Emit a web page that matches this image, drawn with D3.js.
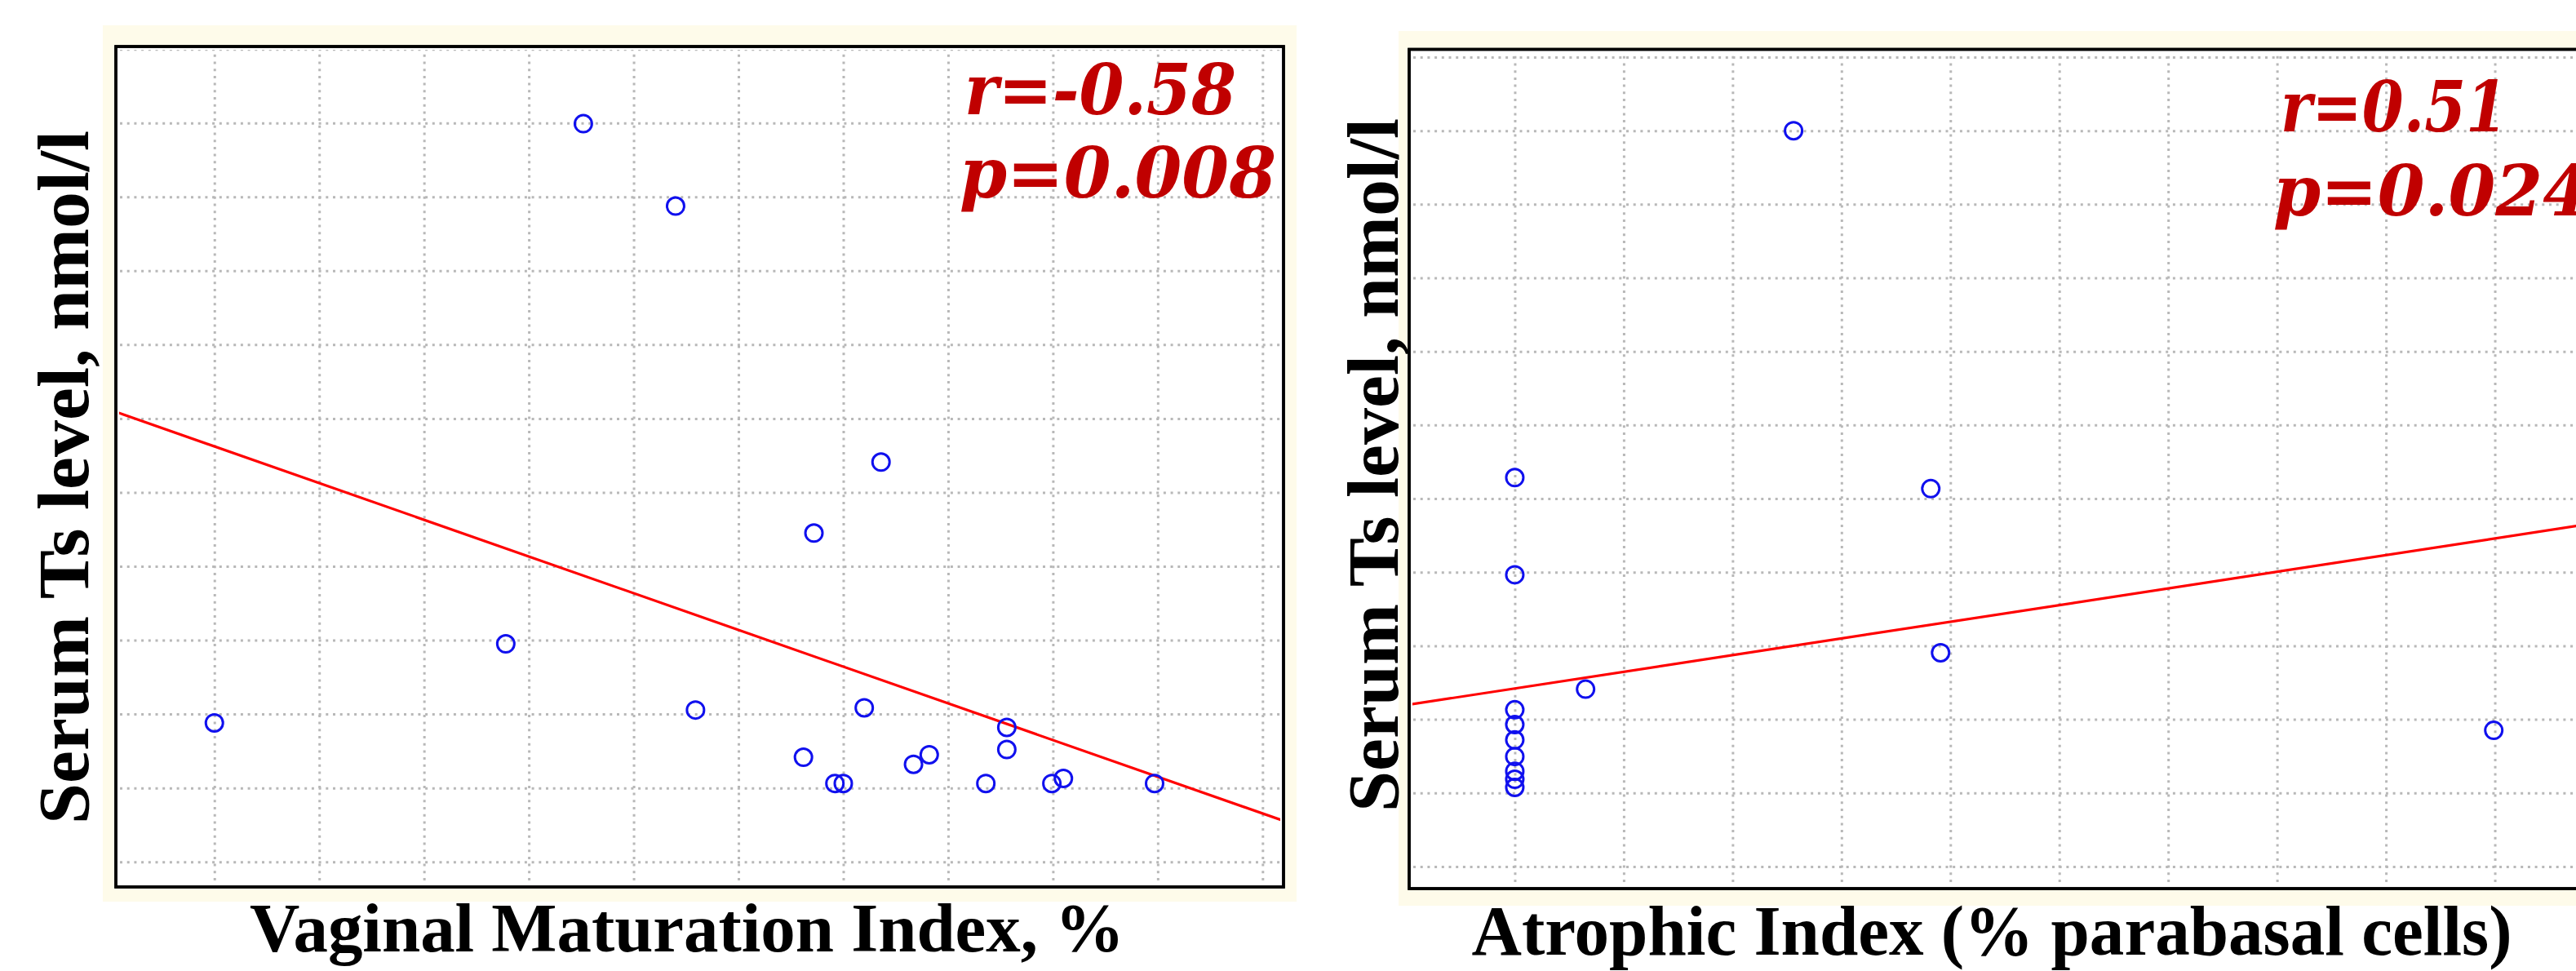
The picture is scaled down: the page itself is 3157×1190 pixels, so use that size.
<!doctype html>
<html>
  <head>
    <script src="https://cdnjs.cloudflare.com/ajax/libs/d3/7.8.5/d3.min.js"></script>
    <style>
      body { margin: 0; background: #fff; }
      .grid line { stroke: #b8b8b8; stroke-width: 3; stroke-dasharray: 3 5.7; }
      .grid path { display: none; }
      circle.pt { fill: none; stroke: #1010ee; stroke-width: 3; }
      path.fit { fill: none; stroke: #ff0000; stroke-width: 3.2; }
      rect.frame { fill: #fff; stroke: #000; stroke-width: 3.5; }
      rect.cream { fill: #fefbea; }
      text.stat { font-family: "DejaVu Serif", serif; font-weight: bold; font-style: italic; fill: #c00000; }
      text.lab { font-family: "Liberation Serif", "Times New Roman", serif; font-weight: bold; fill: #000; }
    </style>
  </head>
  <body>
    <div id="chart"></div>
    <script>
      // left panel: Vaginal Maturation Index vs serum Ts
      var vmiX = [20.0, 33.9, 42.95, 48.1, 48.6, 49.6, 50.0, 51.0, 51.8, 53.35, 54.1, 56.8, 57.8, 57.8, 59.95, 60.5, 64.85, 37.6, 42.0];
      var vmiY = [0.376, 0.590, 0.411, 0.283, 0.890, 0.212, 0.212, 0.417, 1.082, 0.264, 0.290, 0.212, 0.364, 0.304, 0.212, 0.226, 0.212, 1.998, 1.775];
      var vmiFitX = [15.3, 71.0];
      var vmiFitY = [1.218, 0.111];
      var vmiTicks = [20, 25, 30, 35, 40, 45, 50, 55, 60, 65, 70];

      // right panel: Atrophic Index vs serum Ts
      var aiX = [0, 38.2, 0, 39.1, 6.5, 89.9, 25.6, 0, 0, 0, 0, 0, 0, 0];
      var aiY = [1.057, 1.027, 0.793, 0.581, 0.482, 0.370, 2.0, 0.426, 0.386, 0.344, 0.299, 0.259, 0.237, 0.215];
      var aiFitX = [-9.7, 100];
      var aiFitY = [0.440, 0.937];
      var aiTicks = [0, 10, 20, 30, 40, 50, 60, 70, 80, 90, 100];

      var tsTicks = [0, 0.2, 0.4, 0.6, 0.8, 1.0, 1.2, 1.4, 1.6, 1.8, 2.0, 2.2];

      var svg = d3.select("#chart").append("svg")
          .attr("width", 3157)
          .attr("height", 1190);

      svg.append("rect").attr("width", 3157).attr("height", 1190).attr("fill", "#fff");

      function panel(p) {
        var x = d3.scaleLinear().domain(p.xDomain).range([p.left, p.right]);
        var y = d3.scaleLinear().domain(p.yDomain).range([p.bottom, p.top]);
        var g = svg.append("g");

        g.append("rect").attr("class", "cream")
            .attr("x", p.cream[0]).attr("y", p.cream[1])
            .attr("width", p.cream[2] - p.cream[0]).attr("height", p.cream[3] - p.cream[1]);

        g.append("rect").attr("class", "frame")
            .attr("x", p.left).attr("y", p.top)
            .attr("width", p.right - p.left).attr("height", p.bottom - p.top);

        var clipId = "clip" + p.id;
        g.append("clipPath").attr("id", clipId)
          .append("rect")
            .attr("x", p.left + 4).attr("y", p.top + 4)
            .attr("width", p.right - p.left - 8).attr("height", p.bottom - p.top - 8);

        var inner = g.append("g").attr("clip-path", "url(#" + clipId + ")");

        inner.append("g").attr("class", "grid")
            .attr("transform", "translate(0," + (p.bottom - 8) + ")")
            .call(d3.axisBottom(x).tickValues(p.xTicks).tickSize(-(p.bottom - p.top - 14)).tickFormat(""));

        inner.append("g").attr("class", "grid")
            .attr("transform", "translate(" + (p.left + 5) + ",0)")
            .call(d3.axisLeft(y).tickValues(tsTicks).tickSize(-(p.right - p.left)).tickFormat(""));

        inner.append("path").attr("class", "fit")
            .datum(d3.zip(p.fitX, p.fitY))
            .attr("d", d3.line().x(d => x(d[0])).y(d => y(d[1])));

        inner.selectAll("circle.pt")
          .data(d3.zip(p.xs, p.ys))
          .enter()
          .append("circle")
            .attr("class", "pt")
            .attr("cx", d => x(d[0]))
            .attr("cy", d => y(d[1]))
            .attr("r", 10.5);

        // redraw frame edges on top
        g.append("rect")
            .attr("x", p.left).attr("y", p.top)
            .attr("width", p.right - p.left).attr("height", p.bottom - p.top)
            .attr("fill", "none").attr("stroke", "#000").attr("stroke-width", 3.5);

        p.stats.forEach(function(s) {
          g.append("text").attr("class", "stat")
              .attr("x", s.x).attr("y", s.y)
              .attr("font-size", 86)
              .attr("textLength", s.w).attr("lengthAdjust", "spacingAndGlyphs")
              .text(s.t);
        });

        g.append("text").attr("class", "lab")
            .attr("transform", "translate(" + p.yLab[0] + "," + p.yLab[1] + ") rotate(-90)")
            .attr("text-anchor", "middle")
            .attr("font-size", 88)
            .attr("textLength", 850).attr("lengthAdjust", "spacingAndGlyphs")
            .text("Serum Ts level, nmol/l");

        g.append("text").attr("class", "lab")
            .attr("x", p.xLab[0]).attr("y", p.xLab[1])
            .attr("text-anchor", "middle")
            .attr("font-size", p.xLab[3])
            .attr("textLength", p.xLab[2]).attr("lengthAdjust", "spacingAndGlyphs")
            .text(p.xTitle);
      }

      panel({
        id: "L",
        xs: vmiX, ys: vmiY, fitX: vmiFitX, fitY: vmiFitY, xTicks: vmiTicks,
        xDomain: [15.3, 71.0], yDomain: [-0.068, 2.207],
        left: 142, right: 1573, top: 57, bottom: 1087,
        cream: [126, 31, 1589, 1105],
        stats: [{t: "r=-0.58", x: 1182, y: 140, w: 333}, {t: "p=0.008", x: 1176, y: 242, w: 388}],
        yLab: [108, 585],
        xLab: [842, 1166, 1072, 84],
        xTitle: "Vaginal Maturation Index, %"
      });

      panel({
        id: "R",
        xs: aiX, ys: aiY, fitX: aiFitX, fitY: aiFitY, xTicks: aiTicks,
        xDomain: [-9.7, 100], yDomain: [-0.06, 2.221],
        left: 1727, right: 3191, top: 60.5, bottom: 1089,
        cream: [1714, 38, 3200, 1110],
        stats: [{t: "r=0.51", x: 2795, y: 161, w: 278}, {t: "p=0.024", x: 2786, y: 264, w: 388}],
        yLab: [1713, 570],
        xLab: [2441, 1170, 1275, 86],
        xTitle: "Atrophic Index (% parabasal cells)"
      });
    </script>
  </body>
</html>
